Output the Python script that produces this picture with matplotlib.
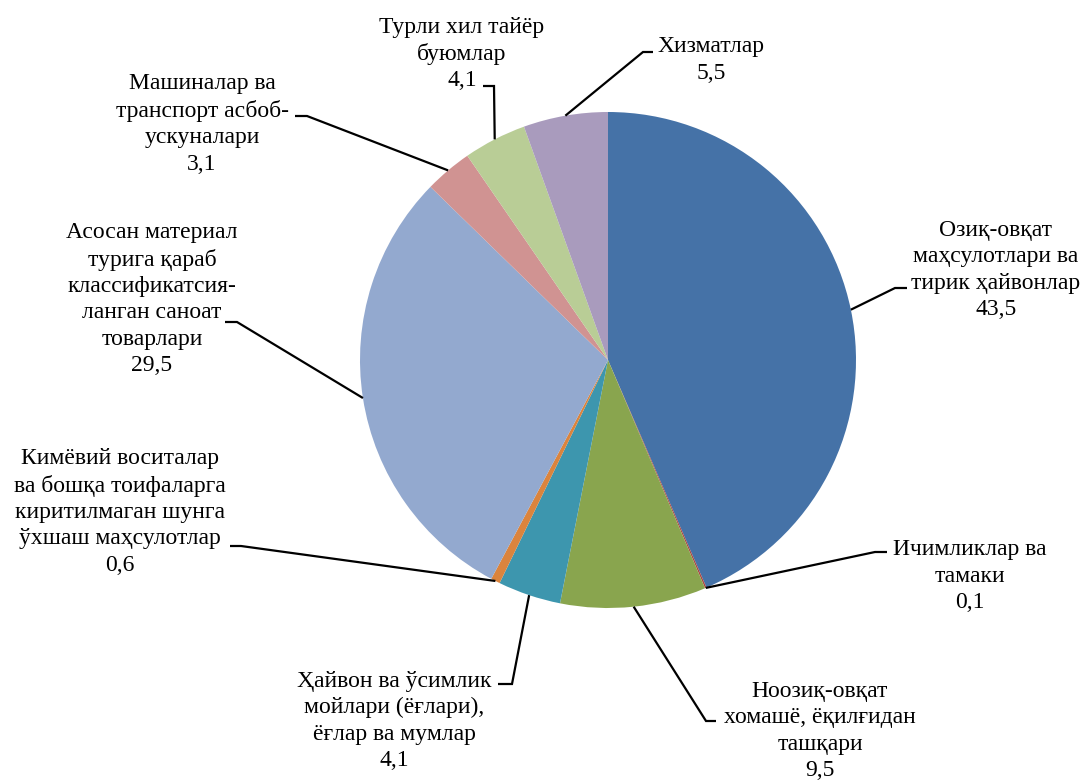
import numpy as np
import matplotlib
matplotlib.use("Agg")
import matplotlib.pyplot as plt

plt.rcParams['font.family'] = ['Liberation Serif', 'DejaVu Serif']

# ---- data ----
categories = [
    "Озиқ-овқат\nмаҳсулотлари ва\nтирик ҳайвонлар",
    "Ичимликлар ва\nтамаки",
    "Ноозиқ-овқат\nхомашё, ёқилғидан\nташқари",
    "Ҳайвон ва ўсимлик\nмойлари (ёғлари),\nёғлар ва мумлар",
    "Кимёвий воситалар\nва бошқа тоифаларга\nкиритилмаган шунга\nўхшаш маҳсулотлар",
    "Асосан материал\nтурига қараб\nклассификатсия-\nланган саноат\nтоварлари",
    "Машиналар ва\nтранспорт асбоб-\nускуналари",
    "Турли хил тайёр\nбуюмлар",
    "Хизматлар",
]
values = [43.5, 0.1, 9.5, 4.1, 0.6, 29.5, 3.1, 4.1, 5.5]
value_labels = ["43,5", "0,1", "9,5", "4,1", "0,6", "29,5", "3,1", "4,1", "5,5"]

colors = ["#4572A7", "#AA4643", "#89A54E", "#3D96AE", "#DB843D",
          "#93A9CF", "#D09392", "#B9CD96", "#A99BBD"]

# ---- layout (pixel coords, y from top) ----
W, H = 1085, 781
cx_px, cy_px, R = 608, 360, 248
# label text centers
label_pos = [(996, 270), (970, 576), (820, 731), (394, 721), (120, 512),
             (152, 299), (202, 124), (462, 54), (711, 60)]
# leader kink points and horizontal end points
kinks = [((895, 288), (907, 288)),
         ((875, 552), (887, 552)),
         ((706, 721), (716, 721)),
         ((512, 684), (498, 684)),
         ((241, 546), (230, 546)),
         ((237, 322), (225, 322)),
         ((307, 116), (295, 116)),
         ((494, 86), (483, 86)),
         ((643, 52), (653, 52))]

def py(y):
    return H - y

fig = plt.figure(figsize=(W / 100, H / 100), dpi=100)
ax = fig.add_axes([0, 0, 1, 1])
wedges, _ = ax.pie(values, colors=colors, startangle=90, counterclock=False,
                   radius=R, center=(cx_px, py(cy_px)),
                   wedgeprops=dict(linewidth=0))
ax.set_xlim(0, W)
ax.set_ylim(0, H)
ax.set_aspect('equal')
ax.axis('off')

fs = 17
for i, w in enumerate(wedges):
    mid = np.deg2rad((w.theta1 + w.theta2) / 2)
    sx = cx_px + R * np.cos(mid)
    sy = py(cy_px) + R * np.sin(mid)
    (kx, ky), (ex, ey) = kinks[i]
    ax.plot([sx, kx, ex], [sy, py(ky), py(ey)], color='black', lw=1.6,
            solid_capstyle='butt', solid_joinstyle='miter')
    tx, ty = label_pos[i]
    ax.text(tx, py(ty), categories[i] + "\n" + value_labels[i],
            ha='center', va='center', multialignment='center',
            fontsize=fs, linespacing=1.33, color='black')

fig.savefig("out.png", dpi=100)
